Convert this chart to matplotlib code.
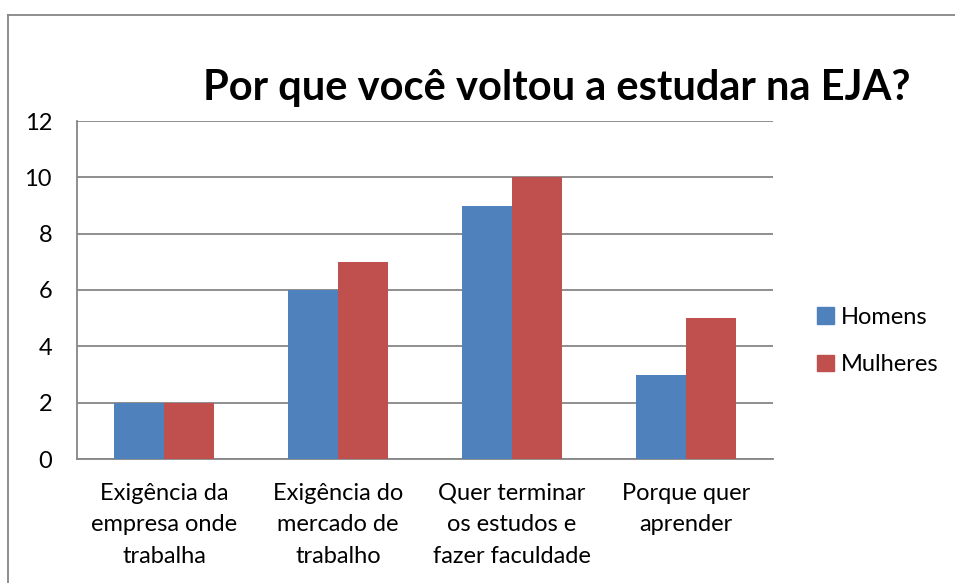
import numpy as np
import matplotlib
matplotlib.use("Agg")
import matplotlib.pyplot as plt
from matplotlib.lines import Line2D
from matplotlib.patches import Patch

plt.rcParams['font.family'] = ['Lato', 'DejaVu Sans']

# data
categories = ["Exigência da\nempresa onde\ntrabalha",
              "Exigência do\nmercado de\ntrabalho",
              "Quer terminar\nos estudos e\nfazer faculdade",
              "Porque quer\naprender"]
homens = [2, 6, 9, 3]
mulheres = [2, 7, 10, 5]
yticks = [0, 2, 4, 6, 8, 10, 12]

blue = "#4F81BD"
red = "#C0504D"
grid = "#868686"

fig = plt.figure(figsize=(9.55, 5.83), dpi=100)
ax = fig.add_axes([77/955, 1-459/583, 696/955, 338/583])

x = np.arange(len(categories))
w = 1/3.5
ax.bar(x - w/2, homens, w, color=blue, label="Homens", zorder=3)
ax.bar(x + w/2, mulheres, w, color=red, label="Mulheres", zorder=3)

ax.set_xlim(-0.5, len(categories) - 0.5)
ax.set_ylim(0, 12)
ax.set_yticks(yticks)
ax.set_xticks(x)
ax.set_xticklabels(categories, linespacing=1.63)
ax.tick_params(axis='both', length=0, labelsize=17, colors='black')
ax.tick_params(axis='y', pad=18)
ax.tick_params(axis='x', pad=17)
ax.yaxis.grid(True, color=grid, lw=1.3, zorder=0)

for s in ['top', 'right']:
    ax.spines[s].set_visible(False)
for s in ['left', 'bottom']:
    ax.spines[s].set_color(grid)
    ax.spines[s].set_linewidth(1.3)

fig.text(557/955, 1-100/583, "Por que você voltou a estudar na EJA?",
         ha='center', va='baseline', fontsize=30, fontweight='bold')

handles = [Patch(color=blue), Patch(color=red)]
fig.legend(handles, ["Homens", "Mulheres"], loc='center left',
           bbox_to_anchor=(796/955, 1-341/583), frameon=False, fontsize=17,
           handlelength=0.7, handleheight=0.7, handletextpad=0.3,
           labelspacing=1.12)

# outer chart frame (partially visible)
fig.add_artist(Line2D([8/955, 1], [1-15/583, 1-15/583], color=grid, lw=1.3))
fig.add_artist(Line2D([8/955, 8/955], [0, 1-15/583], color=grid, lw=1.3))

fig.savefig("out.png", dpi=100)
